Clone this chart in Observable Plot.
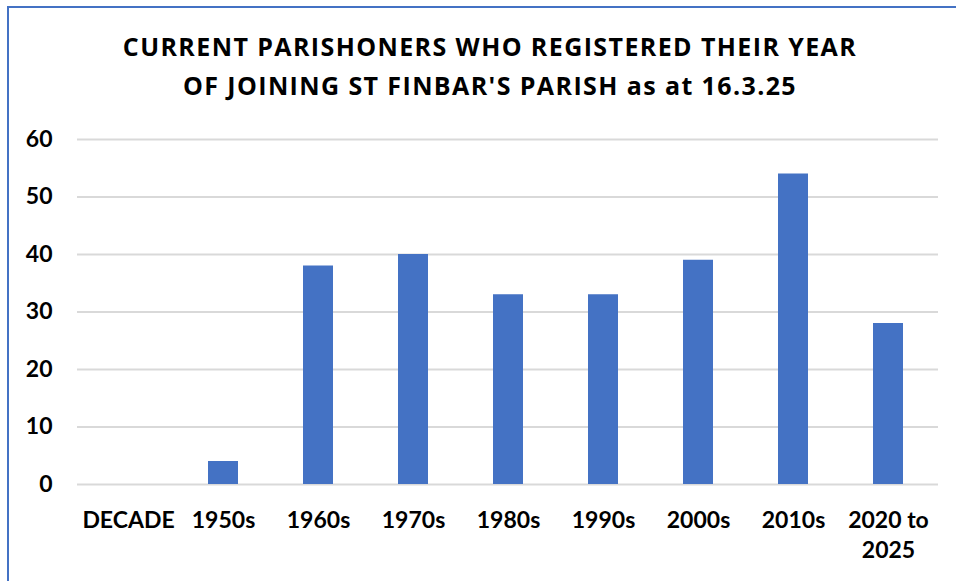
<!DOCTYPE html>
<html>
<head>
<meta charset="utf-8">
<script src="https://cdn.jsdelivr.net/npm/d3@7"></script>
<script src="https://cdn.jsdelivr.net/npm/@observablehq/plot@0.6"></script>
<style>
  body { margin: 0; background: #fff; }
  #wrap { position: relative; width: 956px; height: 581px; overflow: hidden; background: #fff; font-family: Lato, "Noto Sans", sans-serif; }
  .bt { position: absolute; left: 7px; top: 6px; width: 949px; height: 2px; background: #4472C4; }
  .bl { position: absolute; left: 7px; top: 6px; width: 2px; height: 575px; background: #4472C4; }
  #title { position: absolute; left: 0; width: 980px; top: 27px; text-align: center; font-family: "Open Sans", sans-serif; font-weight: 700; font-size: 25px; letter-spacing: 1.4px; line-height: 39px; color: #000; }
  #chart { position: absolute; left: 0; top: 120px; }
</style>
</head>
<body>
<div id="wrap">
  <div class="bt"></div>
  <div class="bl"></div>
  <div id="title">CURRENT PARISHONERS WHO REGISTERED THEIR YEAR<br>OF JOINING ST FINBAR'S PARISH as at 16.3.25</div>
  <div id="chart"></div>
</div>
<script>
const categories = ["DECADE", "1950s", "1960s", "1970s", "1980s", "1990s", "2000s", "2010s", "2020 to 2025"];
const categoryLabels = ["DECADE", "1950s", "1960s", "1970s", "1980s", "1990s", "2000s", "2010s", "2020 to\n2025"];
const counts = [null, 4, 38, 40, 33, 33, 39, 54, 28];
const yTicks = [0, 10, 20, 30, 40, 50, 60];

const data = categories.map((c, i) => ({category: c, count: counts[i]}));
const labelOf = new Map(categories.map((c, i) => [c, categoryLabels[i]]));

const chart = Plot.plot({
  width: 956,
  height: 461,
  marginLeft: 77,
  marginRight: 18,
  marginTop: 19,
  marginBottom: 97,
  style: {fontFamily: "Lato, 'Noto Sans', sans-serif", fontSize: "23px", fontWeight: "700", color: "#000", background: "transparent"},
  x: {domain: categories, paddingInner: 0.685, paddingOuter: 0.3425, label: null},
  y: {domain: [0, 60], label: null},
  marks: [
    Plot.ruleY(yTicks, {stroke: "#d9d9d9", strokeWidth: 2}),
    Plot.barY(data.filter(d => d.count != null), {x: "category", y: "count", fill: "#4472C4"}),
    Plot.axisY(yTicks, {tickSize: 0, tickPadding: 25, label: null, fontSize: 23, fontWeight: 700, fill: "#000"}),
    Plot.axisX({tickSize: 0, tickPadding: 22, label: null, tickFormat: d => labelOf.get(d), lineHeight: 1.32, fontSize: 23, fontWeight: 700, fill: "#000"})
  ]
});
document.getElementById("chart").appendChild(chart);
</script>
</body>
</html>
